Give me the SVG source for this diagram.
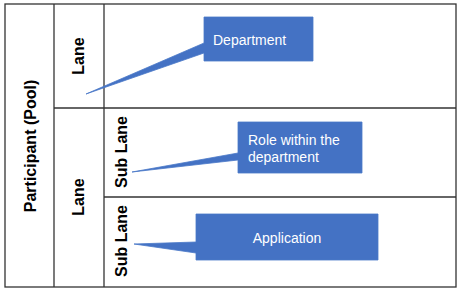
<svg xmlns="http://www.w3.org/2000/svg" width="463" height="295" viewBox="0 0 463 295">
<style>
.ln{stroke:#333;stroke-width:1.3;fill:none}
.hd{font-family:"Liberation Sans",Arial,sans-serif;font-weight:bold;font-size:16px;fill:#000;text-anchor:middle;dominant-baseline:central}
.co{fill:#4472C4;stroke:#4a78c8;stroke-width:0.8}
.ct{font-family:"Liberation Sans",Arial,sans-serif;font-size:14px;fill:#fff}
</style>
<rect width="463" height="295" fill="#fff"/>
<g id="pool">
<rect class="ln" x="5" y="4" width="451" height="283"/>
<line class="ln" x1="54" y1="4" x2="54" y2="287"/>
<text class="hd" font-size="17" transform="translate(30,146) rotate(-90)">Participant (Pool)</text>
</g>
<g id="lane1">
<line class="ln" x1="104" y1="4" x2="104" y2="287"/>
<line class="ln" x1="54" y1="108" x2="456" y2="108"/>
<text class="hd" transform="translate(78,56) rotate(-90)">Lane</text>
</g>
<g id="lane2">
<text class="hd" transform="translate(78,197) rotate(-90)">Lane</text>
</g>
<g id="sublane1">
<line class="ln" x1="104" y1="197" x2="456" y2="197"/>
<text class="hd" transform="translate(121,152) rotate(-90)">Sub Lane</text>
</g>
<g id="sublane2">
<text class="hd" transform="translate(121,241) rotate(-90)">Sub Lane</text>
</g>
<g id="connectors">
<path class="co" d="M204,17 H313 V61 H204 V53 L86,94 L204,43 Z"/>
<path class="co" d="M238,122 H362 V173 H238 V160 L132,172 L238,153 Z"/>
<path class="co" d="M196,214 H378 V260 H196 V253 L134,244 L196,242 Z"/>
</g>
<g id="department">
<text class="ct" x="213" y="45">Department</text>
</g>
<g id="role">
<text class="ct" x="248" y="145">Role within the</text>
<text class="ct" x="248" y="162">department</text>
</g>
<g id="application">
<text class="ct" x="287" y="243" font-size="13" text-anchor="middle">Application</text>
</g>
</svg>
